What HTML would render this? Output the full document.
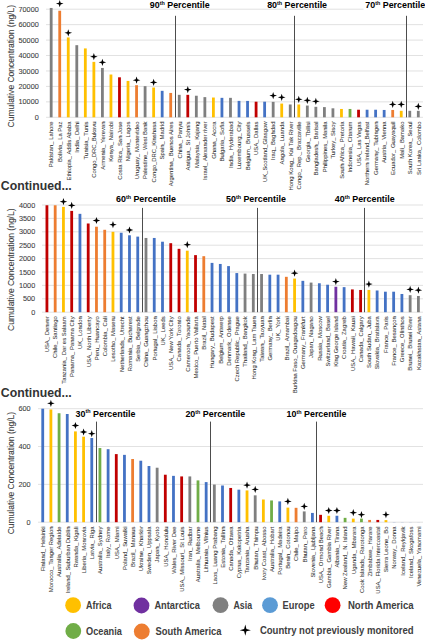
<!DOCTYPE html>
<html><head><meta charset="utf-8"><title>Chart</title>
<style>html,body{margin:0;padding:0;background:#fff;width:425px;height:640px;overflow:hidden;position:relative}</style>
</head><body>
<svg width="425" height="640" viewBox="0 0 425 640" font-family='"Liberation Sans", sans-serif' style="position:absolute;left:0;top:0">
<rect x="0" y="0" width="425" height="640" fill="#fff"/>
<line x1="46" y1="117.30" x2="423" y2="117.30" stroke="#d9d9d9" stroke-width="0.8"/>
<text x="38.8" y="119.90" text-anchor="end" font-size="7.3" fill="#404040" stroke="#404040" stroke-width="0.08">0</text>
<line x1="46" y1="101.86" x2="423" y2="101.86" stroke="#d9d9d9" stroke-width="0.8"/>
<text x="38.8" y="104.46" text-anchor="end" font-size="7.3" fill="#404040" stroke="#404040" stroke-width="0.08">10000</text>
<line x1="46" y1="86.41" x2="423" y2="86.41" stroke="#d9d9d9" stroke-width="0.8"/>
<text x="38.8" y="89.01" text-anchor="end" font-size="7.3" fill="#404040" stroke="#404040" stroke-width="0.08">20000</text>
<line x1="46" y1="70.97" x2="423" y2="70.97" stroke="#d9d9d9" stroke-width="0.8"/>
<text x="38.8" y="73.57" text-anchor="end" font-size="7.3" fill="#404040" stroke="#404040" stroke-width="0.08">30000</text>
<line x1="46" y1="55.53" x2="423" y2="55.53" stroke="#d9d9d9" stroke-width="0.8"/>
<text x="38.8" y="58.13" text-anchor="end" font-size="7.3" fill="#404040" stroke="#404040" stroke-width="0.08">40000</text>
<line x1="46" y1="40.09" x2="423" y2="40.09" stroke="#d9d9d9" stroke-width="0.8"/>
<text x="38.8" y="42.69" text-anchor="end" font-size="7.3" fill="#404040" stroke="#404040" stroke-width="0.08">50000</text>
<line x1="46" y1="24.64" x2="423" y2="24.64" stroke="#d9d9d9" stroke-width="0.8"/>
<text x="38.8" y="27.24" text-anchor="end" font-size="7.3" fill="#404040" stroke="#404040" stroke-width="0.08">60000</text>
<line x1="46" y1="9.20" x2="423" y2="9.20" stroke="#d9d9d9" stroke-width="0.8"/>
<text x="38.8" y="11.80" text-anchor="end" font-size="7.3" fill="#404040" stroke="#404040" stroke-width="0.08">70000</text>
<rect x="49.78" y="7.96" width="2.8" height="109.34" fill="#7f7f7f"/>
<text transform="translate(53.48,121.50) rotate(-90)" text-anchor="end" font-size="5.9" fill="#383838" stroke="#383838" stroke-width="0.06">Pakistan_ Lahore</text>
<rect x="58.32" y="10.74" width="2.8" height="106.56" fill="#ed7d31"/>
<path d="M59.72,0.00 L60.62,2.70 L63.52,3.60 L60.62,4.50 L59.72,7.20 L58.82,4.50 L55.92,3.60 L58.82,2.70 Z" fill="#000"/>
<text transform="translate(62.02,121.50) rotate(-90)" text-anchor="end" font-size="5.9" fill="#383838" stroke="#383838" stroke-width="0.06">Bolivia_ La Paz</text>
<rect x="66.86" y="37.46" width="2.8" height="79.84" fill="#ffc000"/>
<path d="M68.26,29.20 L69.16,31.90 L72.06,32.80 L69.16,33.70 L68.26,36.40 L67.36,33.70 L64.46,32.80 L67.36,31.90 Z" fill="#000"/>
<text transform="translate(70.56,121.50) rotate(-90)" text-anchor="end" font-size="5.9" fill="#383838" stroke="#383838" stroke-width="0.06">Ethiopia_ Addis Ababa</text>
<rect x="75.39" y="45.18" width="2.8" height="72.12" fill="#7f7f7f"/>
<text transform="translate(79.09,121.50) rotate(-90)" text-anchor="end" font-size="5.9" fill="#383838" stroke="#383838" stroke-width="0.06">India_ Delhi</text>
<rect x="83.93" y="48.42" width="2.8" height="68.88" fill="#ffc000"/>
<text transform="translate(87.63,121.50) rotate(-90)" text-anchor="end" font-size="5.9" fill="#383838" stroke="#383838" stroke-width="0.06">Tunisia_ Tunis</text>
<rect x="92.47" y="61.86" width="2.8" height="55.44" fill="#ffc000"/>
<path d="M93.87,53.10 L94.77,55.80 L97.67,56.70 L94.77,57.60 L93.87,60.30 L92.97,57.60 L90.07,56.70 L92.97,55.80 Z" fill="#000"/>
<text transform="translate(96.17,121.50) rotate(-90)" text-anchor="end" font-size="5.9" fill="#383838" stroke="#383838" stroke-width="0.06">Congo_DRC_Bukavu</text>
<rect x="101.01" y="67.96" width="2.8" height="49.34" fill="#7f7f7f"/>
<path d="M102.41,58.70 L103.31,61.40 L106.21,62.30 L103.31,63.20 L102.41,65.90 L101.51,63.20 L98.61,62.30 L101.51,61.40 Z" fill="#000"/>
<text transform="translate(104.71,121.50) rotate(-90)" text-anchor="end" font-size="5.9" fill="#383838" stroke="#383838" stroke-width="0.06">Armenia_ Yerevan</text>
<rect x="109.55" y="74.52" width="2.8" height="42.78" fill="#ffc000"/>
<text transform="translate(113.25,121.50) rotate(-90)" text-anchor="end" font-size="5.9" fill="#383838" stroke="#383838" stroke-width="0.06">Kenya_ Nairobi</text>
<rect x="118.08" y="77.30" width="2.8" height="40.00" fill="#c00000"/>
<text transform="translate(121.78,121.50) rotate(-90)" text-anchor="end" font-size="5.9" fill="#383838" stroke="#383838" stroke-width="0.06">Costa Rica_ San Jose</text>
<rect x="126.62" y="80.93" width="2.8" height="36.37" fill="#ffc000"/>
<text transform="translate(130.32,121.50) rotate(-90)" text-anchor="end" font-size="5.9" fill="#383838" stroke="#383838" stroke-width="0.06">Nigeria_ Lagos</text>
<rect x="135.16" y="85.18" width="2.8" height="32.12" fill="#ed7d31"/>
<path d="M136.56,76.60 L137.46,79.30 L140.36,80.20 L137.46,81.10 L136.56,83.80 L135.66,81.10 L132.76,80.20 L135.66,79.30 Z" fill="#000"/>
<text transform="translate(138.86,121.50) rotate(-90)" text-anchor="end" font-size="5.9" fill="#383838" stroke="#383838" stroke-width="0.06">Uruguay_ Montevideo</text>
<rect x="143.70" y="86.14" width="2.8" height="31.16" fill="#7f7f7f"/>
<text transform="translate(147.40,121.50) rotate(-90)" text-anchor="end" font-size="5.9" fill="#383838" stroke="#383838" stroke-width="0.06">Palestine_ West Bank</text>
<rect x="152.24" y="87.54" width="2.8" height="29.76" fill="#ffc000"/>
<path d="M153.64,78.80 L154.54,81.50 L157.44,82.40 L154.54,83.30 L153.64,86.00 L152.74,83.30 L149.84,82.40 L152.74,81.50 Z" fill="#000"/>
<text transform="translate(155.94,121.50) rotate(-90)" text-anchor="end" font-size="5.9" fill="#383838" stroke="#383838" stroke-width="0.06">Congo_DRC_Kinshasa</text>
<rect x="160.77" y="90.83" width="2.8" height="26.47" fill="#4472c4"/>
<text transform="translate(164.47,121.50) rotate(-90)" text-anchor="end" font-size="5.9" fill="#383838" stroke="#383838" stroke-width="0.06">Spain_ Madrid</text>
<rect x="169.31" y="92.93" width="2.8" height="24.37" fill="#ed7d31"/>
<text transform="translate(173.01,121.50) rotate(-90)" text-anchor="end" font-size="5.9" fill="#383838" stroke="#383838" stroke-width="0.06">Argentina_ Buenos Aires</text>
<rect x="177.85" y="94.83" width="2.8" height="22.47" fill="#7f7f7f"/>
<text transform="translate(181.55,121.50) rotate(-90)" text-anchor="end" font-size="5.9" fill="#383838" stroke="#383838" stroke-width="0.06">China_ Panyu</text>
<rect x="186.39" y="94.83" width="2.8" height="22.47" fill="#c00000"/>
<path d="M187.79,86.00 L188.69,88.70 L191.59,89.60 L188.69,90.50 L187.79,93.20 L186.89,90.50 L183.99,89.60 L186.89,88.70 Z" fill="#000"/>
<text transform="translate(190.09,121.50) rotate(-90)" text-anchor="end" font-size="5.9" fill="#383838" stroke="#383838" stroke-width="0.06">Antigua_ St John&#x27;s</text>
<rect x="194.93" y="95.73" width="2.8" height="21.57" fill="#7f7f7f"/>
<text transform="translate(198.63,121.50) rotate(-90)" text-anchor="end" font-size="5.9" fill="#383838" stroke="#383838" stroke-width="0.06">Malaysia_ Kajang</text>
<rect x="203.46" y="97.13" width="2.8" height="20.17" fill="#7f7f7f"/>
<text transform="translate(207.16,121.50) rotate(-90)" text-anchor="end" font-size="5.9" fill="#383838" stroke="#383838" stroke-width="0.06">Israel_ Alexander river</text>
<rect x="212.00" y="97.53" width="2.8" height="19.77" fill="#ffc000"/>
<text transform="translate(215.70,121.50) rotate(-90)" text-anchor="end" font-size="5.9" fill="#383838" stroke="#383838" stroke-width="0.06">Ghana_ Accra</text>
<rect x="220.54" y="97.84" width="2.8" height="19.46" fill="#4472c4"/>
<text transform="translate(224.24,121.50) rotate(-90)" text-anchor="end" font-size="5.9" fill="#383838" stroke="#383838" stroke-width="0.06">Bulgaria_ Sofia</text>
<rect x="229.08" y="97.84" width="2.8" height="19.46" fill="#7f7f7f"/>
<text transform="translate(232.78,121.50) rotate(-90)" text-anchor="end" font-size="5.9" fill="#383838" stroke="#383838" stroke-width="0.06">India_ Hyderabad</text>
<rect x="237.62" y="100.88" width="2.8" height="16.42" fill="#4472c4"/>
<text transform="translate(241.32,121.50) rotate(-90)" text-anchor="end" font-size="5.9" fill="#383838" stroke="#383838" stroke-width="0.06">Luxembourg_ City</text>
<rect x="246.15" y="100.93" width="2.8" height="16.37" fill="#4472c4"/>
<text transform="translate(249.85,121.50) rotate(-90)" text-anchor="end" font-size="5.9" fill="#383838" stroke="#383838" stroke-width="0.06">Belgium_ Brussels</text>
<rect x="254.69" y="101.70" width="2.8" height="15.60" fill="#c00000"/>
<text transform="translate(258.39,121.50) rotate(-90)" text-anchor="end" font-size="5.9" fill="#383838" stroke="#383838" stroke-width="0.06">USA_ Dallas</text>
<rect x="263.23" y="101.70" width="2.8" height="15.60" fill="#4472c4"/>
<text transform="translate(266.93,121.50) rotate(-90)" text-anchor="end" font-size="5.9" fill="#383838" stroke="#383838" stroke-width="0.06">UK_Scotland_Glasgow</text>
<rect x="271.77" y="101.86" width="2.8" height="15.44" fill="#7f7f7f"/>
<path d="M273.17,92.00 L274.07,94.70 L276.97,95.60 L274.07,96.50 L273.17,99.20 L272.27,96.50 L269.37,95.60 L272.27,94.70 Z" fill="#000"/>
<text transform="translate(275.47,121.50) rotate(-90)" text-anchor="end" font-size="5.9" fill="#383838" stroke="#383838" stroke-width="0.06">Iraq_ Baghdad</text>
<rect x="280.31" y="103.56" width="2.8" height="13.74" fill="#ffc000"/>
<path d="M281.71,93.70 L282.61,96.40 L285.51,97.30 L282.61,98.20 L281.71,100.90 L280.81,98.20 L277.91,97.30 L280.81,96.40 Z" fill="#000"/>
<text transform="translate(284.01,121.50) rotate(-90)" text-anchor="end" font-size="5.9" fill="#383838" stroke="#383838" stroke-width="0.06">Angola_ Luanda</text>
<rect x="288.84" y="104.48" width="2.8" height="12.82" fill="#7f7f7f"/>
<text transform="translate(292.54,121.50) rotate(-90)" text-anchor="end" font-size="5.9" fill="#383838" stroke="#383838" stroke-width="0.06">Hong Kong_ Kai Tak River</text>
<rect x="297.38" y="104.48" width="2.8" height="12.82" fill="#ffc000"/>
<path d="M298.78,95.70 L299.68,98.40 L302.58,99.30 L299.68,100.20 L298.78,102.90 L297.88,100.20 L294.98,99.30 L297.88,98.40 Z" fill="#000"/>
<text transform="translate(301.08,121.50) rotate(-90)" text-anchor="end" font-size="5.9" fill="#383838" stroke="#383838" stroke-width="0.06">Congo_ Rep._ Brazzaville</text>
<rect x="305.92" y="105.56" width="2.8" height="11.74" fill="#7f7f7f"/>
<path d="M307.32,96.70 L308.22,99.40 L311.12,100.30 L308.22,101.20 L307.32,103.90 L306.42,101.20 L303.52,100.30 L306.42,99.40 Z" fill="#000"/>
<text transform="translate(309.62,121.50) rotate(-90)" text-anchor="end" font-size="5.9" fill="#383838" stroke="#383838" stroke-width="0.06">Georgia_ Tbilisi</text>
<rect x="314.46" y="106.81" width="2.8" height="10.49" fill="#7f7f7f"/>
<path d="M315.86,97.70 L316.76,100.40 L319.66,101.30 L316.76,102.20 L315.86,104.90 L314.96,102.20 L312.06,101.30 L314.96,100.40 Z" fill="#000"/>
<text transform="translate(318.16,121.50) rotate(-90)" text-anchor="end" font-size="5.9" fill="#383838" stroke="#383838" stroke-width="0.06">Bangladesh_ Barisal</text>
<rect x="323.00" y="107.11" width="2.8" height="10.19" fill="#7f7f7f"/>
<text transform="translate(326.70,121.50) rotate(-90)" text-anchor="end" font-size="5.9" fill="#383838" stroke="#383838" stroke-width="0.06">Philippines_ Manila</text>
<rect x="331.53" y="108.31" width="2.8" height="8.99" fill="#7f7f7f"/>
<text transform="translate(335.23,121.50) rotate(-90)" text-anchor="end" font-size="5.9" fill="#383838" stroke="#383838" stroke-width="0.06">Turkey_ Sisoy</text>
<rect x="340.07" y="108.96" width="2.8" height="8.34" fill="#ffc000"/>
<text transform="translate(343.77,121.50) rotate(-90)" text-anchor="end" font-size="5.9" fill="#383838" stroke="#383838" stroke-width="0.06">South Africa_ Pretoria</text>
<rect x="348.61" y="108.96" width="2.8" height="8.34" fill="#70ad47"/>
<text transform="translate(352.31,121.50) rotate(-90)" text-anchor="end" font-size="5.9" fill="#383838" stroke="#383838" stroke-width="0.06">Indonesia_ Citarum</text>
<rect x="357.15" y="109.73" width="2.8" height="7.57" fill="#c00000"/>
<text transform="translate(360.85,121.50) rotate(-90)" text-anchor="end" font-size="5.9" fill="#383838" stroke="#383838" stroke-width="0.06">USA_ Las Vegas</text>
<rect x="365.69" y="109.73" width="2.8" height="7.57" fill="#4472c4"/>
<text transform="translate(369.39,121.50) rotate(-90)" text-anchor="end" font-size="5.9" fill="#383838" stroke="#383838" stroke-width="0.06">Northern Ireland_Belfast</text>
<rect x="374.22" y="109.73" width="2.8" height="7.57" fill="#4472c4"/>
<text transform="translate(377.92,121.50) rotate(-90)" text-anchor="end" font-size="5.9" fill="#383838" stroke="#383838" stroke-width="0.06">Germany_ Tubingen</text>
<rect x="382.76" y="109.96" width="2.8" height="7.34" fill="#4472c4"/>
<text transform="translate(386.46,121.50) rotate(-90)" text-anchor="end" font-size="5.9" fill="#383838" stroke="#383838" stroke-width="0.06">Austria_ Vienna</text>
<rect x="391.30" y="109.96" width="2.8" height="7.34" fill="#ed7d31"/>
<path d="M392.70,100.80 L393.60,103.50 L396.50,104.40 L393.60,105.30 L392.70,108.00 L391.80,105.30 L388.90,104.40 L391.80,103.50 Z" fill="#000"/>
<text transform="translate(395.00,121.50) rotate(-90)" text-anchor="end" font-size="5.9" fill="#383838" stroke="#383838" stroke-width="0.06">Ecuador_ Guayaquil</text>
<rect x="399.84" y="110.81" width="2.8" height="6.49" fill="#ffc000"/>
<path d="M401.24,100.80 L402.14,103.50 L405.04,104.40 L402.14,105.30 L401.24,108.00 L400.34,105.30 L397.44,104.40 L400.34,103.50 Z" fill="#000"/>
<text transform="translate(403.54,121.50) rotate(-90)" text-anchor="end" font-size="5.9" fill="#383838" stroke="#383838" stroke-width="0.06">Mali_ Bamako</text>
<rect x="408.38" y="110.81" width="2.8" height="6.49" fill="#7f7f7f"/>
<text transform="translate(412.08,121.50) rotate(-90)" text-anchor="end" font-size="5.9" fill="#383838" stroke="#383838" stroke-width="0.06">South Korea_ Seoul</text>
<rect x="416.91" y="110.81" width="2.8" height="6.49" fill="#7f7f7f"/>
<path d="M418.31,102.80 L419.21,105.50 L422.11,106.40 L419.21,107.30 L418.31,110.00 L417.41,107.30 L414.51,106.40 L417.41,105.50 Z" fill="#000"/>
<text transform="translate(420.61,121.50) rotate(-90)" text-anchor="end" font-size="5.9" fill="#383838" stroke="#383838" stroke-width="0.06">Sri Lanka_ Colombo</text>
<line x1="175.50" y1="15.8" x2="175.50" y2="117.3" stroke="#4d4d4d" stroke-width="1"/>
<line x1="294.50" y1="15.8" x2="294.50" y2="117.3" stroke="#4d4d4d" stroke-width="1"/>
<line x1="406.50" y1="15.8" x2="406.50" y2="117.3" stroke="#4d4d4d" stroke-width="1"/>
<text x="149.8" y="7.9" font-size="8.9" font-weight="bold" fill="#000">90<tspan font-size="5.4" dy="-3.2">th</tspan><tspan dy="3.2"> Percentile</tspan></text>
<text x="267.2" y="7.9" font-size="8.9" font-weight="bold" fill="#000">80<tspan font-size="5.4" dy="-3.2">th</tspan><tspan dy="3.2"> Percentile</tspan></text>
<rect x="363.5" y="0" width="62" height="10.6" fill="#fff"/>
<text x="365.3" y="7.9" font-size="8.9" font-weight="bold" fill="#000">70<tspan font-size="5.4" dy="-3.2">th</tspan><tspan dy="3.2"> Percentile</tspan></text>
<text transform="translate(14.2,66.20) rotate(-90)" text-anchor="middle" font-size="9.3" textLength="122.5" lengthAdjust="spacingAndGlyphs" fill="#404040" stroke="#404040" stroke-width="0.1">Cumulative Concentration (ng/L)</text>
<text x="0.8" y="189.5" font-size="12.6" font-weight="bold" fill="#333" textLength="71" lengthAdjust="spacingAndGlyphs">Continued...</text>
<line x1="42" y1="312.20" x2="423" y2="312.20" stroke="#d9d9d9" stroke-width="0.8"/>
<text x="35.2" y="314.80" text-anchor="end" font-size="7.3" fill="#404040" stroke="#404040" stroke-width="0.08">0</text>
<line x1="42" y1="298.80" x2="423" y2="298.80" stroke="#d9d9d9" stroke-width="0.8"/>
<text x="35.2" y="301.40" text-anchor="end" font-size="7.3" fill="#404040" stroke="#404040" stroke-width="0.08">500</text>
<line x1="42" y1="285.40" x2="423" y2="285.40" stroke="#d9d9d9" stroke-width="0.8"/>
<text x="35.2" y="288.00" text-anchor="end" font-size="7.3" fill="#404040" stroke="#404040" stroke-width="0.08">1000</text>
<line x1="42" y1="272.00" x2="423" y2="272.00" stroke="#d9d9d9" stroke-width="0.8"/>
<text x="35.2" y="274.60" text-anchor="end" font-size="7.3" fill="#404040" stroke="#404040" stroke-width="0.08">1500</text>
<line x1="42" y1="258.60" x2="423" y2="258.60" stroke="#d9d9d9" stroke-width="0.8"/>
<text x="35.2" y="261.20" text-anchor="end" font-size="7.3" fill="#404040" stroke="#404040" stroke-width="0.08">2000</text>
<line x1="42" y1="245.20" x2="423" y2="245.20" stroke="#d9d9d9" stroke-width="0.8"/>
<text x="35.2" y="247.80" text-anchor="end" font-size="7.3" fill="#404040" stroke="#404040" stroke-width="0.08">2500</text>
<line x1="42" y1="231.80" x2="423" y2="231.80" stroke="#d9d9d9" stroke-width="0.8"/>
<text x="35.2" y="234.40" text-anchor="end" font-size="7.3" fill="#404040" stroke="#404040" stroke-width="0.08">3000</text>
<line x1="42" y1="218.40" x2="423" y2="218.40" stroke="#d9d9d9" stroke-width="0.8"/>
<text x="35.2" y="221.00" text-anchor="end" font-size="7.3" fill="#404040" stroke="#404040" stroke-width="0.08">3500</text>
<line x1="42" y1="205.00" x2="423" y2="205.00" stroke="#d9d9d9" stroke-width="0.8"/>
<text x="35.2" y="207.60" text-anchor="end" font-size="7.3" fill="#404040" stroke="#404040" stroke-width="0.08">4000</text>
<rect x="45.53" y="205.27" width="2.8" height="106.93" fill="#c00000"/>
<text transform="translate(49.23,316.30) rotate(-90)" text-anchor="end" font-size="5.9" fill="#383838" stroke="#383838" stroke-width="0.06">USA_ Denver</text>
<rect x="53.79" y="205.27" width="2.8" height="106.93" fill="#ed7d31"/>
<text transform="translate(57.48,316.30) rotate(-90)" text-anchor="end" font-size="5.9" fill="#383838" stroke="#383838" stroke-width="0.06">Chile_ Santiago</text>
<rect x="62.04" y="206.88" width="2.8" height="105.32" fill="#ffc000"/>
<path d="M63.44,198.10 L64.34,200.80 L67.24,201.70 L64.34,202.60 L63.44,205.30 L62.54,202.60 L59.64,201.70 L62.54,200.80 Z" fill="#000"/>
<text transform="translate(65.74,316.30) rotate(-90)" text-anchor="end" font-size="5.9" fill="#383838" stroke="#383838" stroke-width="0.06">Tanzania_ Dar es Salaam</text>
<rect x="70.29" y="210.90" width="2.8" height="101.30" fill="#c00000"/>
<path d="M71.69,201.80 L72.59,204.50 L75.49,205.40 L72.59,206.30 L71.69,209.00 L70.79,206.30 L67.89,205.40 L70.79,204.50 Z" fill="#000"/>
<text transform="translate(73.99,316.30) rotate(-90)" text-anchor="end" font-size="5.9" fill="#383838" stroke="#383838" stroke-width="0.06">Panama_ Panama City</text>
<rect x="78.55" y="213.84" width="2.8" height="98.36" fill="#4472c4"/>
<text transform="translate(82.25,316.30) rotate(-90)" text-anchor="end" font-size="5.9" fill="#383838" stroke="#383838" stroke-width="0.06">UK_ London</text>
<rect x="86.81" y="223.49" width="2.8" height="88.71" fill="#c00000"/>
<text transform="translate(90.51,316.30) rotate(-90)" text-anchor="end" font-size="5.9" fill="#383838" stroke="#383838" stroke-width="0.06">USA_ North Liberty</text>
<rect x="95.06" y="226.71" width="2.8" height="85.49" fill="#ed7d31"/>
<path d="M96.46,216.90 L97.36,219.60 L100.26,220.50 L97.36,221.40 L96.46,224.10 L95.56,221.40 L92.66,220.50 L95.56,219.60 Z" fill="#000"/>
<text transform="translate(98.76,316.30) rotate(-90)" text-anchor="end" font-size="5.9" fill="#383838" stroke="#383838" stroke-width="0.06">Peru_ Huancayo</text>
<rect x="103.31" y="229.79" width="2.8" height="82.41" fill="#ed7d31"/>
<text transform="translate(107.02,316.30) rotate(-90)" text-anchor="end" font-size="5.9" fill="#383838" stroke="#383838" stroke-width="0.06">Colombia_ Cali</text>
<rect x="111.57" y="231.80" width="2.8" height="80.40" fill="#ffc000"/>
<path d="M112.97,221.10 L113.87,223.80 L116.77,224.70 L113.87,225.60 L112.97,228.30 L112.07,225.60 L109.17,224.70 L112.07,223.80 Z" fill="#000"/>
<text transform="translate(115.27,316.30) rotate(-90)" text-anchor="end" font-size="5.9" fill="#383838" stroke="#383838" stroke-width="0.06">Lesotho_ Maseru</text>
<rect x="119.82" y="232.74" width="2.8" height="79.46" fill="#4472c4"/>
<text transform="translate(123.52,316.30) rotate(-90)" text-anchor="end" font-size="5.9" fill="#383838" stroke="#383838" stroke-width="0.06">Netherlands_ Utrecht</text>
<rect x="128.08" y="235.28" width="2.8" height="76.92" fill="#4472c4"/>
<path d="M129.48,226.40 L130.38,229.10 L133.28,230.00 L130.38,230.90 L129.48,233.60 L128.58,230.90 L125.68,230.00 L128.58,229.10 Z" fill="#000"/>
<text transform="translate(131.78,316.30) rotate(-90)" text-anchor="end" font-size="5.9" fill="#383838" stroke="#383838" stroke-width="0.06">Romania_ Bucharest</text>
<rect x="136.34" y="236.62" width="2.8" height="75.58" fill="#4472c4"/>
<text transform="translate(140.04,316.30) rotate(-90)" text-anchor="end" font-size="5.9" fill="#383838" stroke="#383838" stroke-width="0.06">Serbia_ Belgrade</text>
<rect x="144.59" y="237.96" width="2.8" height="74.24" fill="#7f7f7f"/>
<text transform="translate(148.29,316.30) rotate(-90)" text-anchor="end" font-size="5.9" fill="#383838" stroke="#383838" stroke-width="0.06">China_ Guangzhou</text>
<rect x="152.84" y="237.96" width="2.8" height="74.24" fill="#4472c4"/>
<text transform="translate(156.55,316.30) rotate(-90)" text-anchor="end" font-size="5.9" fill="#383838" stroke="#383838" stroke-width="0.06">Portugal_ Lisbon</text>
<rect x="161.10" y="241.72" width="2.8" height="70.48" fill="#4472c4"/>
<text transform="translate(164.80,316.30) rotate(-90)" text-anchor="end" font-size="5.9" fill="#383838" stroke="#383838" stroke-width="0.06">UK_ Leeds</text>
<rect x="169.36" y="243.19" width="2.8" height="69.01" fill="#c00000"/>
<text transform="translate(173.06,316.30) rotate(-90)" text-anchor="end" font-size="5.9" fill="#383838" stroke="#383838" stroke-width="0.06">USA_ New York City</text>
<rect x="177.61" y="248.82" width="2.8" height="63.38" fill="#c00000"/>
<text transform="translate(181.31,316.30) rotate(-90)" text-anchor="end" font-size="5.9" fill="#383838" stroke="#383838" stroke-width="0.06">Canada_ Toronto</text>
<rect x="185.87" y="250.69" width="2.8" height="61.51" fill="#ffc000"/>
<path d="M187.27,241.10 L188.17,243.80 L191.07,244.70 L188.17,245.60 L187.27,248.30 L186.37,245.60 L183.47,244.70 L186.37,243.80 Z" fill="#000"/>
<text transform="translate(189.57,316.30) rotate(-90)" text-anchor="end" font-size="5.9" fill="#383838" stroke="#383838" stroke-width="0.06">Cameroon_ Yaounde</text>
<rect x="194.12" y="255.12" width="2.8" height="57.08" fill="#c00000"/>
<text transform="translate(197.82,316.30) rotate(-90)" text-anchor="end" font-size="5.9" fill="#383838" stroke="#383838" stroke-width="0.06">Mexico_ Puerto Vallarta</text>
<rect x="202.38" y="256.19" width="2.8" height="56.01" fill="#ed7d31"/>
<text transform="translate(206.08,316.30) rotate(-90)" text-anchor="end" font-size="5.9" fill="#383838" stroke="#383838" stroke-width="0.06">Brazil_ Natal</text>
<rect x="210.63" y="262.89" width="2.8" height="49.31" fill="#4472c4"/>
<text transform="translate(214.33,316.30) rotate(-90)" text-anchor="end" font-size="5.9" fill="#383838" stroke="#383838" stroke-width="0.06">Hungary_ Budapest</text>
<rect x="218.89" y="263.96" width="2.8" height="48.24" fill="#4472c4"/>
<text transform="translate(222.59,316.30) rotate(-90)" text-anchor="end" font-size="5.9" fill="#383838" stroke="#383838" stroke-width="0.06">Belgium_ Antwerp</text>
<rect x="227.14" y="266.10" width="2.8" height="46.10" fill="#4472c4"/>
<text transform="translate(230.84,316.30) rotate(-90)" text-anchor="end" font-size="5.9" fill="#383838" stroke="#383838" stroke-width="0.06">Denmark_ Odense</text>
<rect x="235.40" y="273.07" width="2.8" height="39.13" fill="#4472c4"/>
<text transform="translate(239.10,316.30) rotate(-90)" text-anchor="end" font-size="5.9" fill="#383838" stroke="#383838" stroke-width="0.06">Czech Republic_ Prague</text>
<rect x="243.65" y="273.61" width="2.8" height="38.59" fill="#7f7f7f"/>
<text transform="translate(247.35,316.30) rotate(-90)" text-anchor="end" font-size="5.9" fill="#383838" stroke="#383838" stroke-width="0.06">Thailand_ Bangkok</text>
<rect x="251.91" y="274.01" width="2.8" height="38.19" fill="#7f7f7f"/>
<text transform="translate(255.61,316.30) rotate(-90)" text-anchor="end" font-size="5.9" fill="#383838" stroke="#383838" stroke-width="0.06">Hong Kong_ Lam Tsuen</text>
<rect x="260.16" y="274.01" width="2.8" height="38.19" fill="#7f7f7f"/>
<text transform="translate(263.86,316.30) rotate(-90)" text-anchor="end" font-size="5.9" fill="#383838" stroke="#383838" stroke-width="0.06">Taiwan_ Taoyuan</text>
<rect x="268.42" y="274.68" width="2.8" height="37.52" fill="#4472c4"/>
<text transform="translate(272.12,316.30) rotate(-90)" text-anchor="end" font-size="5.9" fill="#383838" stroke="#383838" stroke-width="0.06">Germany_ Berlin</text>
<rect x="276.67" y="274.68" width="2.8" height="37.52" fill="#4472c4"/>
<text transform="translate(280.37,316.30) rotate(-90)" text-anchor="end" font-size="5.9" fill="#383838" stroke="#383838" stroke-width="0.06">UK_ York</text>
<rect x="284.93" y="276.82" width="2.8" height="35.38" fill="#ed7d31"/>
<text transform="translate(288.62,316.30) rotate(-90)" text-anchor="end" font-size="5.9" fill="#383838" stroke="#383838" stroke-width="0.06">Brazil_ Amambai</text>
<rect x="293.18" y="278.57" width="2.8" height="33.63" fill="#ffc000"/>
<path d="M294.58,269.60 L295.48,272.30 L298.38,273.20 L295.48,274.10 L294.58,276.80 L293.68,274.10 L290.78,273.20 L293.68,272.30 Z" fill="#000"/>
<text transform="translate(296.88,316.30) rotate(-90)" text-anchor="end" font-size="5.9" fill="#383838" stroke="#383838" stroke-width="0.06">Burkina Faso_ Ouagadougou</text>
<rect x="301.44" y="280.84" width="2.8" height="31.36" fill="#4472c4"/>
<text transform="translate(305.14,316.30) rotate(-90)" text-anchor="end" font-size="5.9" fill="#383838" stroke="#383838" stroke-width="0.06">Germany_ Frankfurt</text>
<rect x="309.69" y="282.59" width="2.8" height="29.61" fill="#7f7f7f"/>
<text transform="translate(313.39,316.30) rotate(-90)" text-anchor="end" font-size="5.9" fill="#383838" stroke="#383838" stroke-width="0.06">Japan_ Nagano</text>
<rect x="317.95" y="283.26" width="2.8" height="28.94" fill="#4472c4"/>
<text transform="translate(321.65,316.30) rotate(-90)" text-anchor="end" font-size="5.9" fill="#383838" stroke="#383838" stroke-width="0.06">Russia_ Moscow</text>
<rect x="326.20" y="284.73" width="2.8" height="27.47" fill="#4472c4"/>
<text transform="translate(329.90,316.30) rotate(-90)" text-anchor="end" font-size="5.9" fill="#383838" stroke="#383838" stroke-width="0.06">Switzerland_ Basel</text>
<rect x="334.46" y="286.74" width="2.8" height="25.46" fill="#7030a0"/>
<path d="M335.86,278.00 L336.75,280.70 L339.66,281.60 L336.75,282.50 L335.86,285.20 L334.96,282.50 L332.06,281.60 L334.96,280.70 Z" fill="#000"/>
<text transform="translate(338.16,316.30) rotate(-90)" text-anchor="end" font-size="5.9" fill="#383838" stroke="#383838" stroke-width="0.06">King George Island</text>
<rect x="342.71" y="287.14" width="2.8" height="25.06" fill="#4472c4"/>
<text transform="translate(346.41,316.30) rotate(-90)" text-anchor="end" font-size="5.9" fill="#383838" stroke="#383838" stroke-width="0.06">Croatia_ Zagreb</text>
<rect x="350.97" y="289.42" width="2.8" height="22.78" fill="#c00000"/>
<text transform="translate(354.67,316.30) rotate(-90)" text-anchor="end" font-size="5.9" fill="#383838" stroke="#383838" stroke-width="0.06">USA_ Hawaii_ Kauai</text>
<rect x="359.22" y="289.96" width="2.8" height="22.24" fill="#c00000"/>
<text transform="translate(362.92,316.30) rotate(-90)" text-anchor="end" font-size="5.9" fill="#383838" stroke="#383838" stroke-width="0.06">Canada_ Calgary</text>
<rect x="367.48" y="289.96" width="2.8" height="22.24" fill="#ffc000"/>
<path d="M368.88,280.50 L369.78,283.20 L372.68,284.10 L369.78,285.00 L368.88,287.70 L367.98,285.00 L365.08,284.10 L367.98,283.20 Z" fill="#000"/>
<text transform="translate(371.18,316.30) rotate(-90)" text-anchor="end" font-size="5.9" fill="#383838" stroke="#383838" stroke-width="0.06">South Sudan_ Juba</text>
<rect x="375.73" y="290.49" width="2.8" height="21.71" fill="#4472c4"/>
<text transform="translate(379.43,316.30) rotate(-90)" text-anchor="end" font-size="5.9" fill="#383838" stroke="#383838" stroke-width="0.06">Slovakia_ Bratislava</text>
<rect x="383.99" y="291.70" width="2.8" height="20.50" fill="#4472c4"/>
<text transform="translate(387.69,316.30) rotate(-90)" text-anchor="end" font-size="5.9" fill="#383838" stroke="#383838" stroke-width="0.06">France_ Paris</text>
<rect x="392.24" y="291.70" width="2.8" height="20.50" fill="#4472c4"/>
<text transform="translate(395.94,316.30) rotate(-90)" text-anchor="end" font-size="5.9" fill="#383838" stroke="#383838" stroke-width="0.06">France_ Besançon</text>
<rect x="400.50" y="293.98" width="2.8" height="18.22" fill="#4472c4"/>
<text transform="translate(404.20,316.30) rotate(-90)" text-anchor="end" font-size="5.9" fill="#383838" stroke="#383838" stroke-width="0.06">Greece_ Olinthos</text>
<rect x="408.75" y="295.18" width="2.8" height="17.02" fill="#7f7f7f"/>
<path d="M410.15,285.80 L411.05,288.50 L413.95,289.40 L411.05,290.30 L410.15,293.00 L409.25,290.30 L406.35,289.40 L409.25,288.50 Z" fill="#000"/>
<text transform="translate(412.45,316.30) rotate(-90)" text-anchor="end" font-size="5.9" fill="#383838" stroke="#383838" stroke-width="0.06">Brunei_ Brunei River</text>
<rect x="417.01" y="295.99" width="2.8" height="16.21" fill="#7f7f7f"/>
<path d="M418.41,286.60 L419.31,289.30 L422.21,290.20 L419.31,291.10 L418.41,293.80 L417.51,291.10 L414.61,290.20 L417.51,289.30 Z" fill="#000"/>
<text transform="translate(420.71,316.30) rotate(-90)" text-anchor="end" font-size="5.9" fill="#383838" stroke="#383838" stroke-width="0.06">Kazakhstan_ Astana</text>
<line x1="142.50" y1="207.9" x2="142.50" y2="312.2" stroke="#4d4d4d" stroke-width="1"/>
<line x1="257.50" y1="207.9" x2="257.50" y2="312.2" stroke="#4d4d4d" stroke-width="1"/>
<line x1="364.50" y1="207.9" x2="364.50" y2="312.2" stroke="#4d4d4d" stroke-width="1"/>
<text x="116.0" y="201.9" font-size="8.9" font-weight="bold" fill="#000">60<tspan font-size="5.4" dy="-3.2">th</tspan><tspan dy="3.2"> Percentile</tspan></text>
<text x="226.0" y="202.2" font-size="8.9" font-weight="bold" fill="#000">50<tspan font-size="5.4" dy="-3.2">th</tspan><tspan dy="3.2"> Percentile</tspan></text>
<text x="334.8" y="202.2" font-size="8.9" font-weight="bold" fill="#000">40<tspan font-size="5.4" dy="-3.2">th</tspan><tspan dy="3.2"> Percentile</tspan></text>
<text transform="translate(14.2,269.70) rotate(-90)" text-anchor="middle" font-size="9.3" textLength="122.5" lengthAdjust="spacingAndGlyphs" fill="#404040" stroke="#404040" stroke-width="0.1">Cumulative Concentration (ng/L)</text>
<text x="0.8" y="396.5" font-size="12.6" font-weight="bold" fill="#333" textLength="71" lengthAdjust="spacingAndGlyphs">Continued...</text>
<line x1="38" y1="522.20" x2="423" y2="522.20" stroke="#d9d9d9" stroke-width="0.8"/>
<text x="30.6" y="524.80" text-anchor="end" font-size="7.3" fill="#404040" stroke="#404040" stroke-width="0.08">0</text>
<line x1="38" y1="484.37" x2="423" y2="484.37" stroke="#d9d9d9" stroke-width="0.8"/>
<text x="30.6" y="486.97" text-anchor="end" font-size="7.3" fill="#404040" stroke="#404040" stroke-width="0.08">200</text>
<line x1="38" y1="446.53" x2="423" y2="446.53" stroke="#d9d9d9" stroke-width="0.8"/>
<text x="30.6" y="449.13" text-anchor="end" font-size="7.3" fill="#404040" stroke="#404040" stroke-width="0.08">400</text>
<line x1="38" y1="408.70" x2="423" y2="408.70" stroke="#d9d9d9" stroke-width="0.8"/>
<text x="30.6" y="411.30" text-anchor="end" font-size="7.3" fill="#404040" stroke="#404040" stroke-width="0.08">600</text>
<rect x="41.33" y="408.70" width="2.8" height="113.50" fill="#4472c4"/>
<text transform="translate(45.03,526.50) rotate(-90)" text-anchor="end" font-size="5.9" fill="#383838" stroke="#383838" stroke-width="0.06">Finland_ Helsinki</text>
<rect x="49.50" y="409.46" width="2.8" height="112.74" fill="#ffc000"/>
<path d="M50.90,399.70 L51.80,402.40 L54.70,403.30 L51.80,404.20 L50.90,406.90 L50.00,404.20 L47.10,403.30 L50.00,402.40 Z" fill="#000"/>
<text transform="translate(53.20,526.50) rotate(-90)" text-anchor="end" font-size="5.9" fill="#383838" stroke="#383838" stroke-width="0.06">Morocco_ Tanger Region</text>
<rect x="57.67" y="413.24" width="2.8" height="108.96" fill="#70ad47"/>
<text transform="translate(61.37,526.50) rotate(-90)" text-anchor="end" font-size="5.9" fill="#383838" stroke="#383838" stroke-width="0.06">Australia_ Adelaide</text>
<rect x="65.85" y="414.00" width="2.8" height="108.20" fill="#4472c4"/>
<text transform="translate(69.55,526.50) rotate(-90)" text-anchor="end" font-size="5.9" fill="#383838" stroke="#383838" stroke-width="0.06">Ireland_ Suburban Dublin</text>
<rect x="74.02" y="431.40" width="2.8" height="90.80" fill="#ffc000"/>
<path d="M75.42,421.90 L76.32,424.60 L79.22,425.50 L76.32,426.40 L75.42,429.10 L74.52,426.40 L71.62,425.50 L74.52,424.60 Z" fill="#000"/>
<text transform="translate(77.72,526.50) rotate(-90)" text-anchor="end" font-size="5.9" fill="#383838" stroke="#383838" stroke-width="0.06">Rwanda_ Kigali</text>
<rect x="82.19" y="436.70" width="2.8" height="85.50" fill="#ffc000"/>
<path d="M83.59,428.40 L84.49,431.10 L87.39,432.00 L84.49,432.90 L83.59,435.60 L82.69,432.90 L79.79,432.00 L82.69,431.10 Z" fill="#000"/>
<text transform="translate(85.89,526.50) rotate(-90)" text-anchor="end" font-size="5.9" fill="#383838" stroke="#383838" stroke-width="0.06">Liberia_ Monrovia</text>
<rect x="90.36" y="438.02" width="2.8" height="84.18" fill="#4472c4"/>
<path d="M91.76,430.10 L92.66,432.80 L95.56,433.70 L92.66,434.60 L91.76,437.30 L90.86,434.60 L87.96,433.70 L90.86,432.80 Z" fill="#000"/>
<text transform="translate(94.06,526.50) rotate(-90)" text-anchor="end" font-size="5.9" fill="#383838" stroke="#383838" stroke-width="0.06">Latvia_ Riga</text>
<rect x="98.53" y="448.05" width="2.8" height="74.15" fill="#70ad47"/>
<text transform="translate(102.23,526.50) rotate(-90)" text-anchor="end" font-size="5.9" fill="#383838" stroke="#383838" stroke-width="0.06">Australia_ Sydney</text>
<rect x="106.71" y="449.18" width="2.8" height="73.02" fill="#4472c4"/>
<text transform="translate(110.41,526.50) rotate(-90)" text-anchor="end" font-size="5.9" fill="#383838" stroke="#383838" stroke-width="0.06">Italy_ Rome</text>
<rect x="114.88" y="454.10" width="2.8" height="68.10" fill="#c00000"/>
<text transform="translate(118.58,526.50) rotate(-90)" text-anchor="end" font-size="5.9" fill="#383838" stroke="#383838" stroke-width="0.06">USA_ Miami</text>
<rect x="123.05" y="454.86" width="2.8" height="67.34" fill="#4472c4"/>
<text transform="translate(126.75,526.50) rotate(-90)" text-anchor="end" font-size="5.9" fill="#383838" stroke="#383838" stroke-width="0.06">Poland_ Suwalki</text>
<rect x="131.22" y="459.02" width="2.8" height="63.18" fill="#ed7d31"/>
<text transform="translate(134.92,526.50) rotate(-90)" text-anchor="end" font-size="5.9" fill="#383838" stroke="#383838" stroke-width="0.06">Brazil_ Manaus</text>
<rect x="139.39" y="460.72" width="2.8" height="61.48" fill="#4472c4"/>
<text transform="translate(143.09,526.50) rotate(-90)" text-anchor="end" font-size="5.9" fill="#383838" stroke="#383838" stroke-width="0.06">Ukraine_ Kharkiv</text>
<rect x="147.57" y="466.02" width="2.8" height="56.18" fill="#4472c4"/>
<text transform="translate(151.27,526.50) rotate(-90)" text-anchor="end" font-size="5.9" fill="#383838" stroke="#383838" stroke-width="0.06">Sweden_ Uppsala</text>
<rect x="155.74" y="467.72" width="2.8" height="54.48" fill="#7f7f7f"/>
<text transform="translate(159.44,526.50) rotate(-90)" text-anchor="end" font-size="5.9" fill="#383838" stroke="#383838" stroke-width="0.06">Japan_ Kyoto</text>
<rect x="163.91" y="474.72" width="2.8" height="47.48" fill="#c00000"/>
<text transform="translate(167.61,526.50) rotate(-90)" text-anchor="end" font-size="5.9" fill="#383838" stroke="#383838" stroke-width="0.06">USA_ Honolulu</text>
<rect x="172.08" y="475.85" width="2.8" height="46.35" fill="#4472c4"/>
<text transform="translate(175.78,526.50) rotate(-90)" text-anchor="end" font-size="5.9" fill="#383838" stroke="#383838" stroke-width="0.06">Wales_ River Dee</text>
<rect x="180.25" y="476.42" width="2.8" height="45.78" fill="#c00000"/>
<text transform="translate(183.95,526.50) rotate(-90)" text-anchor="end" font-size="5.9" fill="#383838" stroke="#383838" stroke-width="0.06">USA_ Missouri_ St Louis</text>
<rect x="188.43" y="476.42" width="2.8" height="45.78" fill="#7f7f7f"/>
<text transform="translate(192.13,526.50) rotate(-90)" text-anchor="end" font-size="5.9" fill="#383838" stroke="#383838" stroke-width="0.06">Iran_ Rudbar</text>
<rect x="196.60" y="480.39" width="2.8" height="41.81" fill="#70ad47"/>
<text transform="translate(200.30,526.50) rotate(-90)" text-anchor="end" font-size="5.9" fill="#383838" stroke="#383838" stroke-width="0.06">Australia_ Melbourne</text>
<rect x="204.77" y="482.10" width="2.8" height="40.10" fill="#4472c4"/>
<text transform="translate(208.47,526.50) rotate(-90)" text-anchor="end" font-size="5.9" fill="#383838" stroke="#383838" stroke-width="0.06">Lithuania_ Vilnius</text>
<rect x="212.94" y="484.56" width="2.8" height="37.64" fill="#7f7f7f"/>
<text transform="translate(216.64,526.50) rotate(-90)" text-anchor="end" font-size="5.9" fill="#383838" stroke="#383838" stroke-width="0.06">Laos_ Luang Prabang</text>
<rect x="221.11" y="485.50" width="2.8" height="36.70" fill="#4472c4"/>
<text transform="translate(224.81,526.50) rotate(-90)" text-anchor="end" font-size="5.9" fill="#383838" stroke="#383838" stroke-width="0.06">Estonia_ Tallinn</text>
<rect x="229.29" y="487.96" width="2.8" height="34.24" fill="#c00000"/>
<text transform="translate(232.99,526.50) rotate(-90)" text-anchor="end" font-size="5.9" fill="#383838" stroke="#383838" stroke-width="0.06">Canada_ Ottawa</text>
<rect x="237.46" y="489.66" width="2.8" height="32.54" fill="#4472c4"/>
<text transform="translate(241.16,526.50) rotate(-90)" text-anchor="end" font-size="5.9" fill="#383838" stroke="#383838" stroke-width="0.06">Cyprus_ Kakopetria</text>
<rect x="245.63" y="490.42" width="2.8" height="31.78" fill="#ffc000"/>
<path d="M247.03,481.60 L247.93,484.30 L250.83,485.20 L247.93,486.10 L247.03,488.80 L246.13,486.10 L243.23,485.20 L246.13,484.30 Z" fill="#000"/>
<text transform="translate(249.33,526.50) rotate(-90)" text-anchor="end" font-size="5.9" fill="#383838" stroke="#383838" stroke-width="0.06">Tanzania_ Arusha</text>
<rect x="253.80" y="495.34" width="2.8" height="26.86" fill="#7f7f7f"/>
<path d="M255.20,485.80 L256.10,488.50 L259.00,489.40 L256.10,490.30 L255.20,493.00 L254.30,490.30 L251.40,489.40 L254.30,488.50 Z" fill="#000"/>
<text transform="translate(257.50,526.50) rotate(-90)" text-anchor="end" font-size="5.9" fill="#383838" stroke="#383838" stroke-width="0.06">Bhutan_ Thimpu</text>
<rect x="261.97" y="499.50" width="2.8" height="22.70" fill="#ffc000"/>
<text transform="translate(265.67,526.50) rotate(-90)" text-anchor="end" font-size="5.9" fill="#383838" stroke="#383838" stroke-width="0.06">Ivory Coast_ Abosso</text>
<rect x="270.15" y="500.45" width="2.8" height="21.75" fill="#70ad47"/>
<text transform="translate(273.85,526.50) rotate(-90)" text-anchor="end" font-size="5.9" fill="#383838" stroke="#383838" stroke-width="0.06">Australia_ Hobart</text>
<rect x="278.32" y="501.39" width="2.8" height="20.81" fill="#4472c4"/>
<text transform="translate(282.02,526.50) rotate(-90)" text-anchor="end" font-size="5.9" fill="#383838" stroke="#383838" stroke-width="0.06">Portugal_ Madeira</text>
<rect x="286.49" y="507.63" width="2.8" height="14.57" fill="#ffc000"/>
<path d="M287.89,497.80 L288.79,500.50 L291.69,501.40 L288.79,502.30 L287.89,505.00 L286.99,502.30 L284.09,501.40 L286.99,500.50 Z" fill="#000"/>
<text transform="translate(290.19,526.50) rotate(-90)" text-anchor="end" font-size="5.9" fill="#383838" stroke="#383838" stroke-width="0.06">Benin_ Cotonou</text>
<rect x="294.66" y="507.82" width="2.8" height="14.38" fill="#ed7d31"/>
<text transform="translate(298.36,526.50) rotate(-90)" text-anchor="end" font-size="5.9" fill="#383838" stroke="#383838" stroke-width="0.06">Chile_ Maipo</text>
<rect x="302.83" y="511.42" width="2.8" height="10.78" fill="#7f7f7f"/>
<path d="M304.23,502.80 L305.13,505.50 L308.03,506.40 L305.13,507.30 L304.23,510.00 L303.33,507.30 L300.43,506.40 L303.33,505.50 Z" fill="#000"/>
<text transform="translate(306.53,526.50) rotate(-90)" text-anchor="end" font-size="5.9" fill="#383838" stroke="#383838" stroke-width="0.06">Bhutan_ Paro</text>
<rect x="311.01" y="512.93" width="2.8" height="9.27" fill="#4472c4"/>
<text transform="translate(314.71,526.50) rotate(-90)" text-anchor="end" font-size="5.9" fill="#383838" stroke="#383838" stroke-width="0.06">Slovenia_ Ljubljana</text>
<rect x="319.18" y="514.82" width="2.8" height="7.38" fill="#c00000"/>
<text transform="translate(322.88,526.50) rotate(-90)" text-anchor="end" font-size="5.9" fill="#383838" stroke="#383838" stroke-width="0.06">USA_ Ormond Beach</text>
<rect x="327.35" y="515.77" width="2.8" height="6.43" fill="#ffc000"/>
<path d="M328.75,506.90 L329.65,509.60 L332.55,510.50 L329.65,511.40 L328.75,514.10 L327.85,511.40 L324.95,510.50 L327.85,509.60 Z" fill="#000"/>
<text transform="translate(331.05,526.50) rotate(-90)" text-anchor="end" font-size="5.9" fill="#383838" stroke="#383838" stroke-width="0.06">Gambia_ Gambia River</text>
<rect x="335.52" y="515.77" width="2.8" height="6.43" fill="#4472c4"/>
<path d="M336.92,506.90 L337.82,509.60 L340.72,510.50 L337.82,511.40 L336.92,514.10 L336.02,511.40 L333.12,510.50 L336.02,509.60 Z" fill="#000"/>
<text transform="translate(339.22,526.50) rotate(-90)" text-anchor="end" font-size="5.9" fill="#383838" stroke="#383838" stroke-width="0.06">Albania_ Tirana</text>
<rect x="343.69" y="517.85" width="2.8" height="4.35" fill="#70ad47"/>
<text transform="translate(347.39,526.50) rotate(-90)" text-anchor="end" font-size="5.9" fill="#383838" stroke="#383838" stroke-width="0.06">New Zealand_ N. Island</text>
<rect x="351.87" y="518.61" width="2.8" height="3.59" fill="#ffc000"/>
<path d="M353.27,509.10 L354.17,511.80 L357.07,512.70 L354.17,513.60 L353.27,516.30 L352.37,513.60 L349.47,512.70 L352.37,511.80 Z" fill="#000"/>
<text transform="translate(355.57,526.50) rotate(-90)" text-anchor="end" font-size="5.9" fill="#383838" stroke="#383838" stroke-width="0.06">Uganda_ Mbarara</text>
<rect x="360.04" y="518.61" width="2.8" height="3.59" fill="#70ad47"/>
<path d="M361.44,511.10 L362.34,513.80 L365.24,514.70 L362.34,515.60 L361.44,518.30 L360.54,515.60 L357.64,514.70 L360.54,513.80 Z" fill="#000"/>
<text transform="translate(363.74,526.50) rotate(-90)" text-anchor="end" font-size="5.9" fill="#383838" stroke="#383838" stroke-width="0.06">Cook Islands_ Rarotonga</text>
<rect x="368.21" y="519.93" width="2.8" height="2.27" fill="#ed7d31"/>
<text transform="translate(371.91,526.50) rotate(-90)" text-anchor="end" font-size="5.9" fill="#383838" stroke="#383838" stroke-width="0.06">Zimbabwe_ Harare</text>
<rect x="376.38" y="519.93" width="2.8" height="2.27" fill="#c00000"/>
<text transform="translate(380.08,526.50) rotate(-90)" text-anchor="end" font-size="5.9" fill="#383838" stroke="#383838" stroke-width="0.06">USA_ Florida Intercoastal</text>
<rect x="384.55" y="520.12" width="2.8" height="2.08" fill="#ffc000"/>
<path d="M385.95,511.10 L386.85,513.80 L389.75,514.70 L386.85,515.60 L385.95,518.30 L385.05,515.60 L382.15,514.70 L385.05,513.80 Z" fill="#000"/>
<text transform="translate(388.25,526.50) rotate(-90)" text-anchor="end" font-size="5.9" fill="#383838" stroke="#383838" stroke-width="0.06">Sierra Leone_ Bo</text>
<rect x="392.73" y="522.05" width="2.8" height="0.15" fill="#4472c4"/>
<text transform="translate(396.43,526.50) rotate(-90)" text-anchor="end" font-size="5.9" fill="#383838" stroke="#383838" stroke-width="0.06">Norway_ Donna</text>
<rect x="400.90" y="522.09" width="2.8" height="0.11" fill="#4472c4"/>
<text transform="translate(404.60,526.50) rotate(-90)" text-anchor="end" font-size="5.9" fill="#383838" stroke="#383838" stroke-width="0.06">Iceland_ Reykjavik</text>
<rect x="409.07" y="522.12" width="2.8" height="0.08" fill="#4472c4"/>
<text transform="translate(412.77,526.50) rotate(-90)" text-anchor="end" font-size="5.9" fill="#383838" stroke="#383838" stroke-width="0.06">Iceland_ Skogafoss</text>
<rect x="417.24" y="522.14" width="2.8" height="0.06" fill="#4472c4"/>
<text transform="translate(420.94,526.50) rotate(-90)" text-anchor="end" font-size="5.9" fill="#383838" stroke="#383838" stroke-width="0.06">Venezuela_ Yanomami</text>
<line x1="96.50" y1="421.6" x2="96.50" y2="522.2" stroke="#4d4d4d" stroke-width="1"/>
<line x1="210.50" y1="421.6" x2="210.50" y2="522.2" stroke="#4d4d4d" stroke-width="1"/>
<line x1="316.50" y1="421.6" x2="316.50" y2="522.2" stroke="#4d4d4d" stroke-width="1"/>
<text x="75.6" y="416.6" font-size="8.9" font-weight="bold" fill="#000">30<tspan font-size="5.4" dy="-3.2">th</tspan><tspan dy="3.2"> Percentile</tspan></text>
<text x="185.4" y="417.0" font-size="8.9" font-weight="bold" fill="#000">20<tspan font-size="5.4" dy="-3.2">th</tspan><tspan dy="3.2"> Percentile</tspan></text>
<text x="286.6" y="417.3" font-size="8.9" font-weight="bold" fill="#000">10<tspan font-size="5.4" dy="-3.2">th</tspan><tspan dy="3.2"> Percentile</tspan></text>
<text transform="translate(14.2,473.10) rotate(-90)" text-anchor="middle" font-size="9.3" textLength="122.5" lengthAdjust="spacingAndGlyphs" fill="#404040" stroke="#404040" stroke-width="0.1">Cumulative Concentration (ng/L)</text>
<circle cx="73.1" cy="605.2" r="7.9" fill="#ffc000"/>
<text x="86.1" y="609.00" font-size="10.3" font-weight="bold" fill="#404040" textLength="25.4" lengthAdjust="spacingAndGlyphs">Africa</text>
<circle cx="141.5" cy="605.5" r="7.9" fill="#7030a0"/>
<text x="154.4" y="609.30" font-size="10.3" font-weight="bold" fill="#404040" textLength="45.4" lengthAdjust="spacingAndGlyphs">Antarctica</text>
<circle cx="220.5" cy="605.2" r="7.9" fill="#808080"/>
<text x="233.5" y="609.00" font-size="10.3" font-weight="bold" fill="#404040" textLength="18.6" lengthAdjust="spacingAndGlyphs">Asia</text>
<circle cx="270" cy="605.2" r="7.9" fill="#5b9bd5"/>
<text x="282.6" y="609.00" font-size="10.3" font-weight="bold" fill="#404040" textLength="32" lengthAdjust="spacingAndGlyphs">Europe</text>
<circle cx="332.6" cy="605.2" r="7.9" fill="#ff0000"/>
<text x="347.9" y="609.00" font-size="10.3" font-weight="bold" fill="#404040" textLength="65.7" lengthAdjust="spacingAndGlyphs">North America</text>
<circle cx="73.3" cy="631" r="7.9" fill="#70ad47"/>
<text x="86.1" y="634.80" font-size="10.3" font-weight="bold" fill="#404040" textLength="35.8" lengthAdjust="spacingAndGlyphs">Oceania</text>
<circle cx="141.8" cy="631.5" r="7.9" fill="#ed7d31"/>
<text x="155.6" y="635.30" font-size="10.3" font-weight="bold" fill="#404040" textLength="65.9" lengthAdjust="spacingAndGlyphs">South America</text>
<path d="M245.30,624.60 L246.45,629.05 L250.90,630.20 L246.45,631.35 L245.30,635.80 L244.15,631.35 L239.70,630.20 L244.15,629.05 Z" fill="#000"/>
<text x="259.9" y="634.0" font-size="10.3" font-weight="bold" fill="#404040" textLength="153.7" lengthAdjust="spacingAndGlyphs">Country not previously monitored</text>
</svg>
</body></html>
